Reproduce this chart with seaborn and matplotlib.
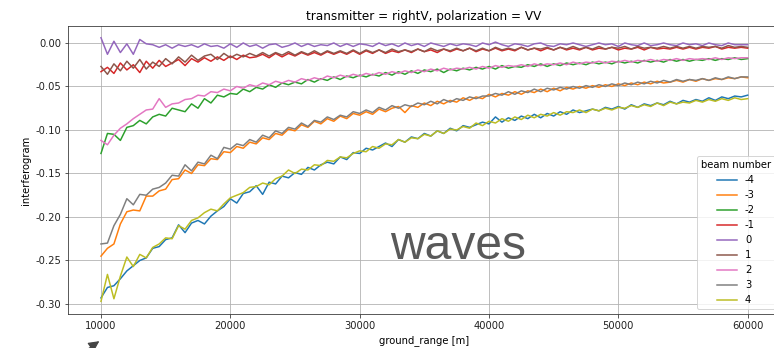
import numpy as np
import pandas as pd
import matplotlib
matplotlib.use("Agg")
import matplotlib.pyplot as plt
import seaborn as sns

# ---------------- data ----------------
ground_range = np.arange(10000, 60001, 500)
beam_numbers = ["-4", "-3", "-2", "-1", "0", "1", "2", "3", "4"]

beam_m4 = [-0.293, -0.281, -0.279, -0.271, -0.262, -0.256, -0.250, -0.247, -0.236, -0.234,
           -0.226, -0.224, -0.209, -0.218, -0.207, -0.204, -0.208, -0.199, -0.193, -0.188,
           -0.179, -0.184, -0.173, -0.171, -0.164, -0.174, -0.160, -0.162, -0.153, -0.155,
           -0.149, -0.151, -0.143, -0.146, -0.140, -0.137, -0.139, -0.131, -0.134, -0.126,
           -0.127, -0.121, -0.123, -0.119, -0.115, -0.119, -0.111, -0.114, -0.108, -0.110,
           -0.104, -0.107, -0.101, -0.104, -0.098, -0.101, -0.095, -0.097, -0.094, -0.091,
           -0.093, -0.085, -0.091, -0.086, -0.089, -0.084, -0.087, -0.082, -0.086, -0.081,
           -0.084, -0.079, -0.082, -0.077, -0.080, -0.078, -0.076, -0.078, -0.074, -0.076,
           -0.073, -0.076, -0.071, -0.074, -0.070, -0.072, -0.069, -0.071, -0.067, -0.070,
           -0.066, -0.068, -0.065, -0.067, -0.063, -0.066, -0.062, -0.064, -0.061, -0.062,
           -0.060]

beam_4 = [-0.297, -0.266, -0.294, -0.268, -0.246, -0.257, -0.243, -0.247, -0.235, -0.231,
          -0.224, -0.225, -0.210, -0.214, -0.204, -0.201, -0.195, -0.191, -0.193, -0.185,
          -0.178, -0.175, -0.172, -0.166, -0.165, -0.161, -0.163, -0.156, -0.153, -0.146,
          -0.150, -0.145, -0.146, -0.140, -0.141, -0.135, -0.136, -0.131, -0.132, -0.127,
          -0.124, -0.125, -0.119, -0.121, -0.116, -0.117, -0.111, -0.114, -0.109, -0.110,
          -0.105, -0.107, -0.101, -0.104, -0.099, -0.100, -0.096, -0.098, -0.092, -0.095,
          -0.090, -0.092, -0.087, -0.090, -0.085, -0.088, -0.083, -0.086, -0.082, -0.084,
          -0.080, -0.083, -0.079, -0.080, -0.077, -0.080, -0.076, -0.078, -0.075, -0.077,
          -0.074, -0.075, -0.072, -0.074, -0.071, -0.073, -0.069, -0.072, -0.068, -0.070,
          -0.068, -0.069, -0.066, -0.068, -0.065, -0.067, -0.064, -0.066, -0.063, -0.065,
          -0.064]

beam_m3 = [-0.245, -0.236, -0.231, -0.208, -0.194, -0.192, -0.193, -0.176, -0.176, -0.170,
           -0.168, -0.157, -0.156, -0.146, -0.150, -0.140, -0.141, -0.133, -0.134, -0.125,
           -0.126, -0.119, -0.121, -0.114, -0.116, -0.109, -0.111, -0.104, -0.106, -0.099,
           -0.101, -0.094, -0.097, -0.090, -0.093, -0.087, -0.090, -0.084, -0.087, -0.081,
           -0.083, -0.079, -0.082, -0.076, -0.079, -0.075, -0.073, -0.080, -0.072, -0.074,
           -0.069, -0.072, -0.067, -0.070, -0.066, -0.068, -0.063, -0.066, -0.062, -0.064,
           -0.059, -0.062, -0.058, -0.060, -0.056, -0.059, -0.055, -0.057, -0.053, -0.056,
           -0.052, -0.055, -0.051, -0.053, -0.050, -0.052, -0.049, -0.051, -0.048, -0.050,
           -0.047, -0.049, -0.046, -0.048, -0.045, -0.047, -0.044, -0.046, -0.045, -0.043,
           -0.045, -0.042, -0.044, -0.041, -0.043, -0.041, -0.042, -0.040, -0.041, -0.039,
           -0.040]

beam_3 = [-0.231, -0.230, -0.210, -0.197, -0.179, -0.186, -0.174, -0.175, -0.168, -0.166,
          -0.161, -0.152, -0.153, -0.140, -0.147, -0.137, -0.139, -0.129, -0.133, -0.120,
          -0.122, -0.116, -0.118, -0.111, -0.114, -0.106, -0.109, -0.101, -0.104, -0.097,
          -0.099, -0.092, -0.096, -0.089, -0.091, -0.085, -0.088, -0.083, -0.085, -0.079,
          -0.081, -0.077, -0.080, -0.074, -0.077, -0.072, -0.075, -0.071, -0.073, -0.069,
          -0.071, -0.067, -0.070, -0.065, -0.068, -0.064, -0.066, -0.062, -0.064, -0.061,
          -0.061, -0.058, -0.060, -0.056, -0.059, -0.055, -0.057, -0.053, -0.056, -0.052,
          -0.054, -0.051, -0.053, -0.050, -0.052, -0.049, -0.051, -0.048, -0.050, -0.047,
          -0.049, -0.046, -0.048, -0.045, -0.047, -0.044, -0.046, -0.043, -0.045, -0.042,
          -0.044, -0.042, -0.043, -0.041, -0.043, -0.040, -0.042, -0.039, -0.041, -0.039,
          -0.039]

beam_m2 = [-0.127, -0.104, -0.105, -0.112, -0.097, -0.095, -0.089, -0.093, -0.085, -0.082,
           -0.084, -0.075, -0.077, -0.079, -0.070, -0.075, -0.064, -0.069, -0.060, -0.062,
           -0.058, -0.059, -0.053, -0.056, -0.051, -0.053, -0.048, -0.051, -0.046, -0.048,
           -0.045, -0.047, -0.042, -0.045, -0.041, -0.043, -0.039, -0.042, -0.038, -0.040,
           -0.037, -0.039, -0.036, -0.038, -0.034, -0.037, -0.033, -0.036, -0.032, -0.035,
           -0.031, -0.033, -0.030, -0.034, -0.030, -0.032, -0.029, -0.031, -0.028, -0.030,
           -0.027, -0.030, -0.026, -0.029, -0.027, -0.028, -0.025, -0.027, -0.024, -0.027,
           -0.024, -0.026, -0.023, -0.025, -0.023, -0.025, -0.022, -0.024, -0.022, -0.024,
           -0.021, -0.023, -0.021, -0.023, -0.020, -0.022, -0.020, -0.022, -0.019, -0.021,
           -0.019, -0.021, -0.019, -0.020, -0.018, -0.020, -0.018, -0.019, -0.017, -0.019,
           -0.018]

beam_2 = [-0.112, -0.117, -0.106, -0.098, -0.093, -0.087, -0.082, -0.077, -0.076, -0.064,
          -0.074, -0.070, -0.069, -0.065, -0.064, -0.060, -0.061, -0.056, -0.057, -0.053,
          -0.055, -0.050, -0.052, -0.048, -0.050, -0.046, -0.048, -0.044, -0.046, -0.043,
          -0.045, -0.041, -0.043, -0.040, -0.042, -0.038, -0.040, -0.037, -0.039, -0.036,
          -0.038, -0.035, -0.037, -0.034, -0.036, -0.033, -0.035, -0.032, -0.034, -0.031,
          -0.033, -0.030, -0.032, -0.029, -0.031, -0.029, -0.030, -0.028, -0.030, -0.027,
          -0.029, -0.026, -0.028, -0.026, -0.027, -0.025, -0.027, -0.024, -0.026, -0.024,
          -0.025, -0.023, -0.025, -0.022, -0.024, -0.022, -0.023, -0.021, -0.023, -0.021,
          -0.022, -0.020, -0.022, -0.020, -0.021, -0.019, -0.021, -0.019, -0.020, -0.018,
          -0.020, -0.018, -0.019, -0.018, -0.019, -0.017, -0.019, -0.017, -0.018, -0.017,
          -0.017]

beam_m1 = [-0.033, -0.028, -0.035, -0.023, -0.031, -0.025, -0.034, -0.021, -0.029, -0.020,
           -0.027, -0.023, -0.019, -0.026, -0.018, -0.022, -0.017, -0.021, -0.016, -0.020,
           -0.015, -0.019, -0.014, -0.017, -0.016, -0.013, -0.017, -0.012, -0.016, -0.012,
           -0.015, -0.011, -0.014, -0.011, -0.014, -0.010, -0.013, -0.010, -0.013, -0.009,
           -0.013, -0.009, -0.012, -0.008, -0.012, -0.009, -0.011, -0.008, -0.011, -0.007,
           -0.010, -0.008, -0.011, -0.007, -0.010, -0.007, -0.009, -0.006, -0.010, -0.007,
           -0.009, -0.006, -0.009, -0.007, -0.009, -0.005, -0.008, -0.006, -0.009, -0.006,
           -0.008, -0.005, -0.008, -0.006, -0.008, -0.005, -0.008, -0.006, -0.007, -0.005,
           -0.008, -0.006, -0.007, -0.005, -0.008, -0.005, -0.007, -0.006, -0.007, -0.005,
           -0.007, -0.005, -0.007, -0.005, -0.006, -0.004, -0.007, -0.005, -0.006, -0.005,
           -0.006]

beam_1 = [-0.027, -0.036, -0.024, -0.032, -0.021, -0.029, -0.019, -0.030, -0.022, -0.027,
          -0.018, -0.024, -0.016, -0.022, -0.014, -0.020, -0.015, -0.013, -0.019, -0.012,
          -0.017, -0.013, -0.016, -0.012, -0.015, -0.011, -0.015, -0.011, -0.014, -0.010,
          -0.014, -0.010, -0.013, -0.009, -0.013, -0.009, -0.012, -0.009, -0.012, -0.008,
          -0.012, -0.008, -0.011, -0.008, -0.011, -0.007, -0.010, -0.008, -0.010, -0.007,
          -0.010, -0.006, -0.009, -0.007, -0.009, -0.006, -0.009, -0.006, -0.009, -0.006,
          -0.009, -0.005, -0.008, -0.006, -0.008, -0.005, -0.008, -0.006, -0.007, -0.005,
          -0.008, -0.005, -0.007, -0.004, -0.007, -0.005, -0.007, -0.004, -0.007, -0.005,
          -0.006, -0.004, -0.007, -0.004, -0.006, -0.005, -0.006, -0.004, -0.006, -0.004,
          -0.006, -0.004, -0.006, -0.004, -0.005, -0.004, -0.006, -0.003, -0.005, -0.004,
          -0.005]

beam_0 = [0.006, -0.013, 0.002, -0.011, -0.001, -0.013, 0.004, -0.001, -0.002, -0.005,
          -0.002, -0.006, -0.002, -0.004, -0.002, -0.005, -0.001, -0.004, -0.003, -0.006,
          -0.001, -0.005, 0.000, -0.004, -0.002, -0.006, -0.002, -0.001, -0.005, -0.003,
          0.000, -0.004, -0.001, -0.004, -0.002, -0.003, 0.000, -0.004, -0.001, -0.004,
          -0.001, -0.002, -0.004, 0.000, -0.003, -0.001, -0.004, 0.000, -0.003, -0.001,
          -0.004, 0.000, -0.002, -0.004, -0.001, -0.003, -0.001, -0.002, -0.004, 0.000,
          -0.002, 0.001, -0.002, -0.004, -0.001, -0.002, -0.004, -0.001, 0.000, -0.003,
          -0.004, -0.001, -0.002, 0.000, -0.002, -0.004, -0.002, 0.000, -0.002, -0.001,
          -0.004, 0.000, -0.002, -0.003, 0.000, -0.003, -0.002, 0.000, -0.002, -0.003,
          0.000, -0.002, -0.001, -0.003, 0.000, -0.002, -0.003, 0.000, -0.002, -0.002,
          -0.002]

series = {"-4": beam_m4, "-3": beam_m3, "-2": beam_m2, "-1": beam_m1, "0": beam_0,
          "1": beam_1, "2": beam_2, "3": beam_3, "4": beam_4}

frames = []
for b in beam_numbers:
    frames.append(pd.DataFrame({"ground_range": ground_range,
                                "interferogram": series[b],
                                "beam number": b}))
df = pd.concat(frames, ignore_index=True)

# ---------------- figure ----------------
W, H, DPI = 774, 348, 72
fig = plt.figure(figsize=(W / DPI, H / DPI), dpi=DPI)
ax = fig.add_axes([68 / W, 34 / H, 712 / W, 288 / H])

sns.lineplot(data=df, x="ground_range", y="interferogram", hue="beam number",
             hue_order=beam_numbers, palette="tab10", estimator=None,
             linewidth=1.5, ax=ax)

ax.set_xlim(7450, 62500)
ax.set_ylim(-0.3115, 0.0195)
ax.set_xticks([10000, 20000, 30000, 40000, 50000, 60000])
ax.set_yticks([0.0, -0.05, -0.10, -0.15, -0.20, -0.25, -0.30])
ax.yaxis.set_major_formatter(matplotlib.ticker.FormatStrFormatter("%.2f"))
ax.grid(True, color="#b0b0b0", linewidth=0.8)
ax.set_axisbelow(True)
for s in ax.spines.values():
    s.set_color("#333333")
ax.tick_params(colors="#333333", labelcolor="#222222", labelsize=10)

ax.set_xlabel("ground_range [m]", fontsize=10)
ax.set_ylabel("interferogram", fontsize=10)
ax.set_title("transmitter = rightV, polarization = VV", fontsize=12)

sns.move_legend(ax, "lower right", title="beam number", fontsize=10,
                title_fontsize=10, frameon=True)

fig.text(458 / W, (H - 259) / H, "waves", family="Liberation Sans",
         fontsize=48, color="#595959", ha="center", va="baseline")

ax.annotate("", xy=(101, H - 340), xycoords="figure pixels",
            xytext=(55, H - 372), textcoords="figure pixels",
            arrowprops=dict(arrowstyle="-|>,head_length=0.9,head_width=0.45",
                            color="#444444", lw=1.2), annotation_clip=False)

fig.savefig("out.png", dpi=DPI)
